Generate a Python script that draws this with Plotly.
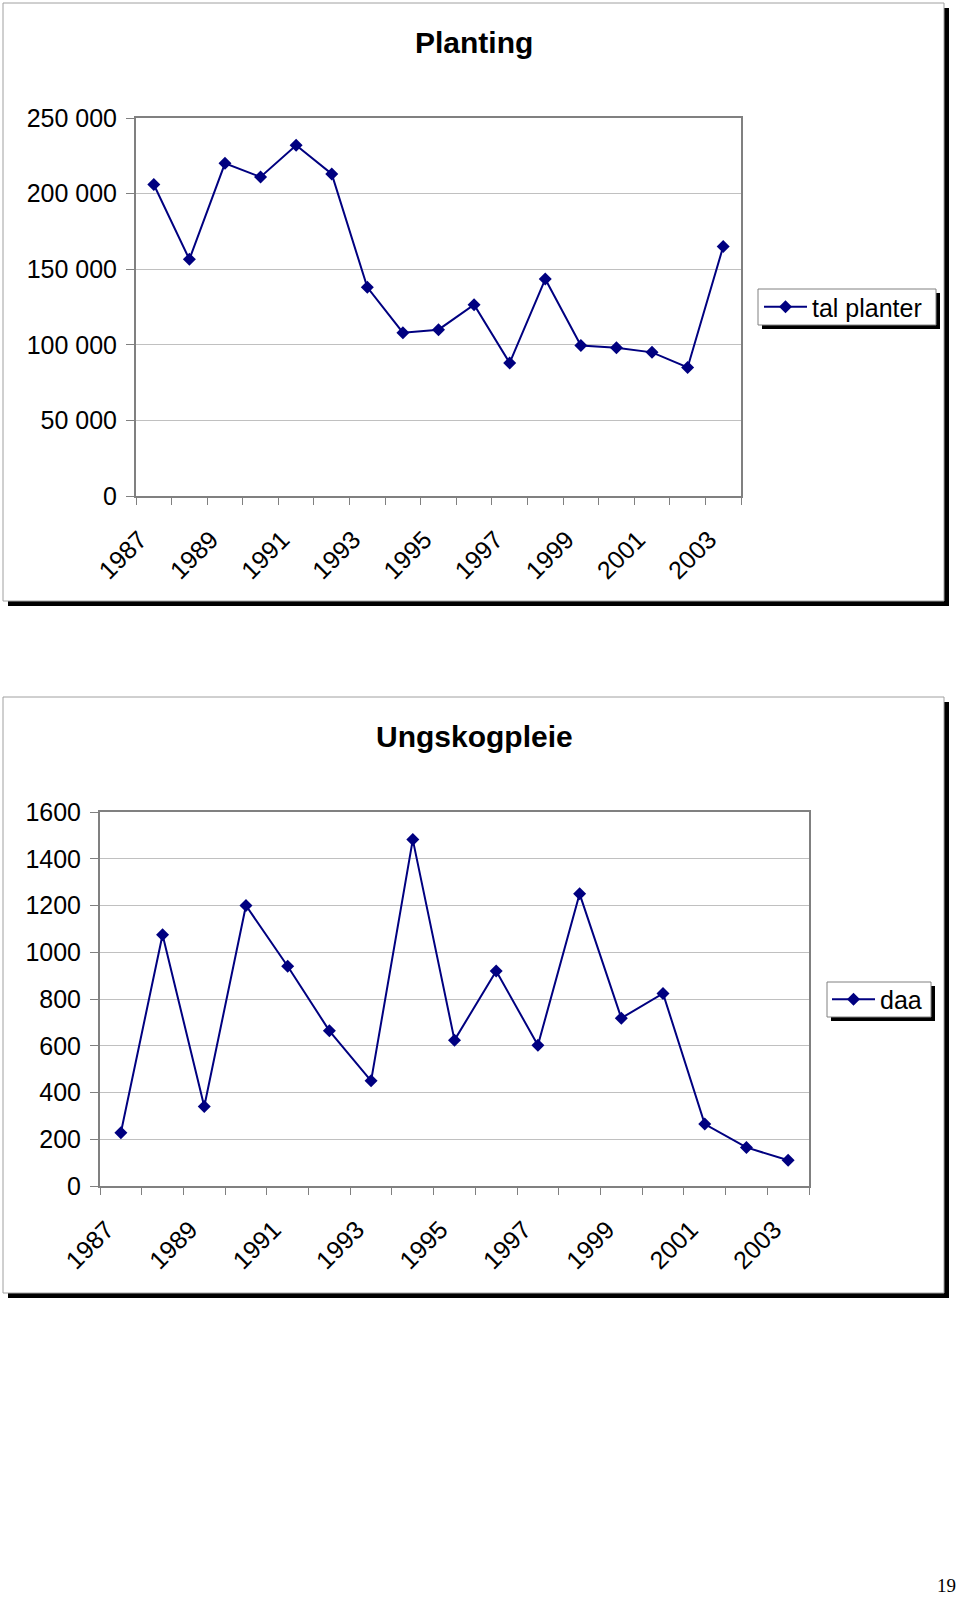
import plotly.graph_objects as go

# ---- data ----
years = [1987, 1988, 1989, 1990, 1991, 1992, 1993, 1994, 1995,
         1996, 1997, 1998, 1999, 2000, 2001, 2002, 2003]
planting = [206000, 156500, 220000, 211000, 232000, 213000, 138000, 108000, 110000,
            126500, 88000, 143500, 99500, 98000, 95000, 85000, 165000]
ungskog = [228, 1075, 340, 1200, 940, 664, 450, 1482, 624,
           920, 602, 1250, 718, 824, 265, 165, 110]

y1_ticks = [0, 50000, 100000, 150000, 200000, 250000]
y1_text = ["0", "50 000", "100 000", "150 000", "200 000", "250 000"]

title1 = "Planting"
title2 = "Ungskogpleie"
name1 = "tal planter"
name2 = "daa"
page_no = "19"

# ---- layout helpers (pixels -> paper) ----
W, H = 960, 1601
def px(x):
    return x / W
def py(y):
    return 1 - y / H

NAVY = "#000080"
GRAY = "#808080"
GRID = "#c0c0c0"
FONT = "Liberation Sans, Arial, sans-serif"

fig = go.Figure()
fig.add_trace(go.Scatter(
    x=years, y=planting, name=name1, mode="lines+markers",
    line=dict(color=NAVY, width=2),
    marker=dict(symbol="diamond", size=10, color=NAVY),
    xaxis="x", yaxis="y", legend="legend"))
fig.add_trace(go.Scatter(
    x=years, y=ungskog, name=name2, mode="lines+markers",
    line=dict(color=NAVY, width=2),
    marker=dict(symbol="diamond", size=10, color=NAVY),
    xaxis="x2", yaxis="y2", legend="legend2"))

def xaxis_common(domain):
    return dict(
        domain=domain, range=[years[0] - 0.5, years[-1] + 0.5],
        tickmode="linear", tick0=years[0], dtick=2, tickformat="d",
        tickangle=-45, ticks="", ticklabelstandoff=17, ticklabelshift=-14,
        showgrid=False, zeroline=False,
        showline=True, mirror=True, linecolor=GRAY, linewidth=2,
        tickfont=dict(family=FONT, size=25, color="black"),
        minor=dict(tick0=years[0] - 0.5, dtick=1, ticks="outside",
                   ticklen=7, tickcolor=GRAY, tickwidth=1, showgrid=False),
        automargin=False, fixedrange=True)

def yaxis_common(domain):
    return dict(
        domain=domain, showgrid=True, gridcolor=GRID, gridwidth=1,
        zeroline=False, showline=True, mirror=True, linecolor=GRAY, linewidth=2,
        ticks="outside", ticklen=8, tickcolor=GRAY, tickwidth=1,
        ticklabelstandoff=4,
        tickfont=dict(family=FONT, size=25, color="black"),
        automargin=False, fixedrange=True)

xa1 = xaxis_common([px(136), px(741)])
xa1["anchor"] = "y"
ya1 = yaxis_common([py(496), py(118)])
ya1.update(range=[0, 250000], tickmode="array", tickvals=y1_ticks, ticktext=y1_text, anchor="x")

xa2 = xaxis_common([px(100), px(809)])
xa2["anchor"] = "y2"
ya2 = yaxis_common([py(1186), py(812)])
ya2.update(range=[0, 1600], dtick=200, tick0=0, anchor="x2")

shapes = []
def boxed(x0, y0, x1, y1, off, line_color):
    shapes.append(dict(type="rect", xref="paper", yref="paper",
                       x0=px(x0 + off), x1=px(x1 + off), y0=py(y1 + off), y1=py(y0 + off),
                       fillcolor="black", line=dict(width=0), layer="below"))
    shapes.append(dict(type="rect", xref="paper", yref="paper",
                       x0=px(x0), x1=px(x1), y0=py(y1), y1=py(y0),
                       fillcolor="white", line=dict(color=line_color, width=1), layer="below"))

# chart frames
boxed(3, 3, 944, 601, 5, "#a0a0a0")
boxed(3, 697, 944, 1293, 5, "#a0a0a0")
# legend boxes
boxed(758, 289, 936, 325, 4, GRAY)
boxed(827, 982, 931, 1017, 4, GRAY)

annotations = [
    dict(text="<b>" + title1 + "</b>", x=px(474), y=py(43), xref="paper", yref="paper",
         showarrow=False, xanchor="center", yanchor="middle",
         font=dict(family=FONT, size=30, color="black")),
    dict(text="<b>" + title2 + "</b>", x=px(474), y=py(736), xref="paper", yref="paper",
         showarrow=False, xanchor="center", yanchor="middle",
         font=dict(family=FONT, size=30, color="black")),
    dict(text=page_no, x=px(958), y=py(1598), xref="paper", yref="paper",
         showarrow=False, xanchor="right", yanchor="bottom",
         font=dict(family="Liberation Serif, Times New Roman, serif", size=19, color="black")),
]

legend_style = dict(bgcolor="rgba(0,0,0,0)", borderwidth=0, itemwidth=43,
                    font=dict(family=FONT, size=25, color="black"),
                    xanchor="left", yanchor="middle", xref="paper", yref="paper")

fig.update_layout(
    width=W, height=H, autosize=False,
    margin=dict(l=0, r=0, t=0, b=0, pad=0, autoexpand=False),
    paper_bgcolor="white", plot_bgcolor="rgba(0,0,0,0)",
    xaxis=xa1, yaxis=ya1, xaxis2=xa2, yaxis2=ya2,
    shapes=shapes, annotations=annotations,
    legend=dict(x=px(759), y=py(307), **legend_style),
    legend2=dict(x=px(827), y=py(999.5), **legend_style),
    showlegend=True,
)

fig.write_html("out.html", config={"displayModeBar": False, "staticPlot": True},
               post_script="document.body.style.margin='0';document.body.style.overflow='hidden';")
